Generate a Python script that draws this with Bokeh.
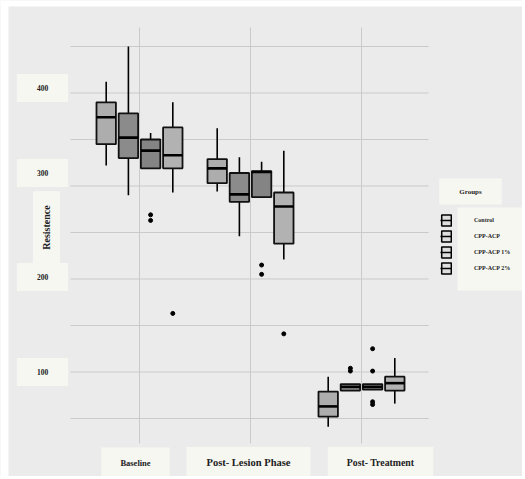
import math
from bokeh.plotting import figure
from bokeh.models import Range1d, Label, Legend, LegendItem, BoxAnnotation
from bokeh.embed import file_html
from bokeh.resources import INLINE

# ---------------- data ----------------
phases = ["Baseline", "Post- Lesion Phase", "Post- Treatment"]
groups = ["Control", "CPP-ACP", "CPP-ACP 1%", "CPP-ACP 2%"]

# five-number summaries, one value per phase
control_lower = [322, 294, 41]
control_q1 = [345, 303, 52]
control_median = [374, 319, 63]
control_q3 = [390, 329, 79]
control_upper = [412, 362, 95]

cpp_lower = [290, 246, 80]
cpp_q1 = [330, 283, 80]
cpp_median = [352, 291, 84]
cpp_q3 = [378, 314, 87]
cpp_upper = [450, 331, 87]

cpp1_lower = [319, 288, 81]
cpp1_q1 = [319, 288, 81]
cpp1_median = [338, 315, 84]
cpp1_q3 = [350, 316, 87]
cpp1_upper = [357, 326, 87]

cpp2_lower = [293, 221, 66]
cpp2_q1 = [319, 238, 80]
cpp2_median = [333, 278, 88]
cpp2_q3 = [363, 293, 95]
cpp2_upper = [390, 338, 115]

outlier_phase = ["Baseline", "Baseline", "Baseline",
                 "Post- Lesion Phase", "Post- Lesion Phase", "Post- Lesion Phase",
                 "Post- Treatment", "Post- Treatment", "Post- Treatment",
                 "Post- Treatment", "Post- Treatment", "Post- Treatment"]
outlier_group = ["CPP-ACP 1%", "CPP-ACP 1%", "CPP-ACP 2%",
                 "CPP-ACP 1%", "CPP-ACP 1%", "CPP-ACP 2%",
                 "CPP-ACP", "CPP-ACP", "CPP-ACP 1%",
                 "CPP-ACP 1%", "CPP-ACP 1%", "CPP-ACP 1%"]
outlier_value = [269, 263, 163,
                 215, 205, 141,
                 104, 101, 125,
                 101, 68, 65]

y_grid_values = [50, 100, 150, 200, 250, 300, 350, 400, 450]
y_tick_values = [400, 300, 200, 100]
y_tick_labels = ["400", "300", "200", "100"]
y_title = "Resistence"
legend_title = "Groups"

# ---------------- styling ----------------
group_offsets = [-0.3, -0.1, 0.1, 0.3]
group_fills = ["#adadad", "#8b8b8b", "#848484", "#b2b2b2"]
box_w = 0.175
FONT = "Liberation Serif"
BG = "#ebebeb"
CARD = "#f7f7f2"
GRID = "#cacaca"
PANEL_X = (0.378, 3.604)
PANEL_Y = (23.1, 470.4)
W, H = 522, 476

stats = {
    "Control": (control_lower, control_q1, control_median, control_q3, control_upper),
    "CPP-ACP": (cpp_lower, cpp_q1, cpp_median, cpp_q3, cpp_upper),
    "CPP-ACP 1%": (cpp1_lower, cpp1_q1, cpp1_median, cpp1_q3, cpp1_upper),
    "CPP-ACP 2%": (cpp2_lower, cpp2_q1, cpp2_median, cpp2_q3, cpp2_upper),
}

p = figure(width=W, height=H,
           x_range=Range1d(-0.2523, 4.4505), y_range=Range1d(-12.37, 499.46),
           x_axis_location=None, y_axis_location=None,
           output_backend="svg", toolbar_location=None,
           min_border=0)
p.background_fill_color = BG
p.border_fill_color = BG
p.outline_line_color = None
for g in p.grid:
    g.visible = False

# white scan margins (top and left)
p.add_layout(BoxAnnotation(left=0, right=8, top=H, bottom=0,
                           left_units="screen", right_units="screen",
                           top_units="screen", bottom_units="screen",
                           fill_color="white", fill_alpha=1, line_color=None))
p.add_layout(BoxAnnotation(left=0, right=W, top=H, bottom=H - 6,
                           left_units="screen", right_units="screen",
                           top_units="screen", bottom_units="screen",
                           fill_color="white", fill_alpha=1, line_color=None))

phase_x = {ph: i + 1 for i, ph in enumerate(phases)}

# panel grid lines
p.segment(x0=[PANEL_X[0]] * len(y_grid_values), x1=[PANEL_X[1]] * len(y_grid_values),
          y0=y_grid_values, y1=y_grid_values, line_color=GRID, line_width=1)
vx = [phase_x[ph] for ph in phases]
p.segment(x0=vx, x1=vx, y0=[PANEL_Y[0]] * len(vx), y1=[PANEL_Y[1]] * len(vx),
          line_color=GRID, line_width=1)

for gi, grp in enumerate(groups):
    lo, q1, med, q3, up = stats[grp]
    xs = [phase_x[ph] + group_offsets[gi] for ph in phases]
    p.segment(x0=xs, x1=xs, y0=lo, y1=up, line_color="black", line_width=1.6)
    p.vbar(x=xs, width=box_w, bottom=q1, top=q3, fill_color=group_fills[gi],
           line_color="#111111", line_width=1.8)
    p.segment(x0=[x - box_w / 2 for x in xs], x1=[x + box_w / 2 for x in xs],
              y0=med, y1=med, line_color="black", line_width=2.6)

ox = [phase_x[ph] + group_offsets[groups.index(g)] for ph, g in zip(outlier_phase, outlier_group)]
p.scatter(x=ox, y=outlier_value, size=4, fill_color="black", line_color="black")

# y tick labels on cards
tick_y_offsets = [5, 13, 2, 0]
for v, t, off in zip(y_tick_values, y_tick_labels, tick_y_offsets):
    p.add_layout(Label(x=42, x_units="screen", y=v, y_units="data", y_offset=off,
                       text=t, text_align="center", text_baseline="middle",
                       text_font=FONT, text_font_style="bold", text_font_size="7.5px",
                       text_color="#222222", background_fill_color=CARD,
                       padding=dict(left=20, right=20, top=11, bottom=11)))

# y title on card
p.add_layout(Label(x=46, x_units="screen", y=249, y_units="screen",
                   text=y_title, angle=math.pi / 2, text_align="center", text_baseline="middle",
                   text_font=FONT, text_font_style="bold", text_font_size="10px",
                   text_color="#222222", background_fill_color=CARD,
                   padding=dict(left=14, right=14, top=8, bottom=8)))

# category labels on cards
cat_x_offsets = [-4, -2, 19]
cat_sizes = ["8.5px", "10.5px", "9.8px"]
cat_pads = [19, 20, 19]
for ph, off, fs, pd in zip(phases, cat_x_offsets, cat_sizes, cat_pads):
    p.add_layout(Label(x=phase_x[ph], x_units="data", x_offset=off, y=14, y_units="screen",
                       text=ph, text_align="center", text_baseline="middle",
                       text_font=FONT, text_font_style="bold", text_font_size=fs,
                       text_color="#222222", background_fill_color=CARD,
                       padding=dict(left=pd, right=pd, top=10, bottom=10)))

# legend title card
p.add_layout(Label(x=470, x_units="screen", y=285, y_units="screen",
                   text=legend_title, text_align="center", text_baseline="middle",
                   text_font=FONT, text_font_style="bold", text_font_size="7px",
                   text_color="#222222", background_fill_color=CARD,
                   padding=dict(left=20, right=20, top=9, bottom=9)))

# legend label card
p.add_layout(BoxAnnotation(left=457, right=W, top=269, bottom=186,
                           left_units="screen", right_units="screen",
                           top_units="screen", bottom_units="screen",
                           fill_color=CARD, fill_alpha=1, line_color=None))

nan = float("nan")
items = []
for grp in groups:
    rb = p.vbar(x=[nan], width=0.1, bottom=[nan], top=[nan], fill_color="#dedede",
                line_color="black", line_width=1.5)
    rl = p.segment(x0=[nan], x1=[nan], y0=[nan], y1=[nan], line_color="black", line_width=1.5)
    items.append(LegendItem(label=grp, renderers=[rb, rl]))

legend = Legend(items=items, location=(440, 201), orientation="vertical",
                glyph_width=12, glyph_height=14, label_height=14, spacing=2,
                padding=0, margin=0, label_standoff=22,
                background_fill_alpha=0, border_line_color=None,
                label_text_font=FONT, label_text_font_style="bold",
                label_text_font_size="6px", label_text_color="#222222")
p.add_layout(legend)

open("out.html", "w").write(file_html(p, INLINE))
